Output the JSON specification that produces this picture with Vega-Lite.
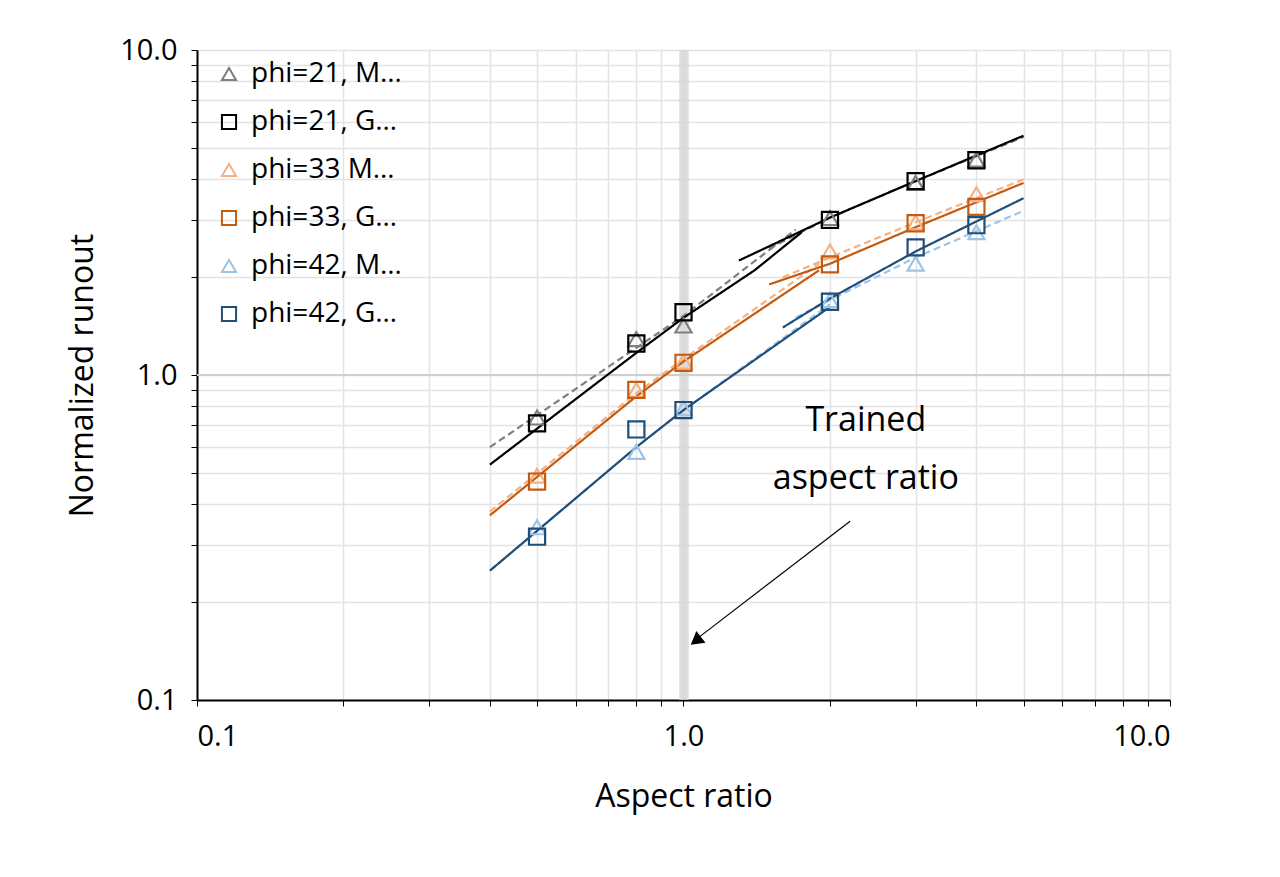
{
  "$schema": "https://vega.github.io/schema/vega-lite/v6.json",
  "autosize": "none",
  "width": 973,
  "height": 650,
  "padding": {"left": 197, "top": 50, "right": 110, "bottom": 177},
  "config": {
    "font": "Open Sans",
    "view": {"stroke": null},
    "axis": {"gridColor": "#e3e3e3", "gridWidth": 1.5, "domainColor": "#000", "domainWidth": 2, "tickColor": "#000", "labelFontSize": 29, "titleFontSize": 32, "titleFontWeight": "normal", "labelColor": "#000", "titleColor": "#000"},
    "legend": {"labelFontSize": 28, "labelColor": "#000", "symbolSize": 200, "symbolStrokeWidth": 2, "rowPadding": 20, "labelOffset": 8}
  },
  "datasets": {
    "pts": [
      {"s": "phi=21, MPM", "x": 0.5, "y": 0.74}, {"s": "phi=21, MPM", "x": 0.8, "y": 1.29}, {"s": "phi=21, MPM", "x": 1.0, "y": 1.42},
      {"s": "phi=21, MPM", "x": 2.0, "y": 3.04}, {"s": "phi=21, MPM", "x": 3.0, "y": 3.9}, {"s": "phi=21, MPM", "x": 4.0, "y": 4.6},
      {"s": "phi=21, GNS", "x": 0.5, "y": 0.71}, {"s": "phi=21, GNS", "x": 0.8, "y": 1.25}, {"s": "phi=21, GNS", "x": 1.0, "y": 1.56},
      {"s": "phi=21, GNS", "x": 2.0, "y": 3.0}, {"s": "phi=21, GNS", "x": 3.0, "y": 3.95}, {"s": "phi=21, GNS", "x": 4.0, "y": 4.58},
      {"s": "phi=33 MPM", "x": 0.5, "y": 0.49}, {"s": "phi=33 MPM", "x": 0.8, "y": 0.9}, {"s": "phi=33 MPM", "x": 1.0, "y": 1.1},
      {"s": "phi=33 MPM", "x": 2.0, "y": 2.4}, {"s": "phi=33 MPM", "x": 3.0, "y": 2.95}, {"s": "phi=33 MPM", "x": 4.0, "y": 3.6},
      {"s": "phi=33, GNS", "x": 0.5, "y": 0.47}, {"s": "phi=33, GNS", "x": 0.8, "y": 0.9}, {"s": "phi=33, GNS", "x": 1.0, "y": 1.09},
      {"s": "phi=33, GNS", "x": 2.0, "y": 2.19}, {"s": "phi=33, GNS", "x": 3.0, "y": 2.93}, {"s": "phi=33, GNS", "x": 4.0, "y": 3.29},
      {"s": "phi=42, MPM", "x": 0.5, "y": 0.34}, {"s": "phi=42, MPM", "x": 0.8, "y": 0.58}, {"s": "phi=42, MPM", "x": 1.0, "y": 0.79},
      {"s": "phi=42, MPM", "x": 2.0, "y": 1.7}, {"s": "phi=42, MPM", "x": 3.0, "y": 2.2}, {"s": "phi=42, MPM", "x": 4.0, "y": 2.75},
      {"s": "phi=42, GNS", "x": 0.5, "y": 0.318}, {"s": "phi=42, GNS", "x": 0.8, "y": 0.68}, {"s": "phi=42, GNS", "x": 1.0, "y": 0.78},
      {"s": "phi=42, GNS", "x": 2.0, "y": 1.68}, {"s": "phi=42, GNS", "x": 3.0, "y": 2.47}, {"s": "phi=42, GNS", "x": 4.0, "y": 2.89}
    ],
    "fits": [
      {"s": "phi=21, MPM", "g": "a", "x": 0.4, "y": 0.6}, {"s": "phi=21, MPM", "g": "a", "x": 1.0, "y": 1.52}, {"s": "phi=21, MPM", "g": "a", "x": 1.7, "y": 2.8},
      {"s": "phi=21, MPM", "g": "b", "x": 1.5, "y": 2.45}, {"s": "phi=21, MPM", "g": "b", "x": 2.0, "y": 3.05}, {"s": "phi=21, MPM", "g": "b", "x": 3.0, "y": 3.95}, {"s": "phi=21, MPM", "g": "b", "x": 5.0, "y": 5.4},
      {"s": "phi=21, GNS", "g": "a", "x": 0.4, "y": 0.53}, {"s": "phi=21, GNS", "g": "a", "x": 0.8, "y": 1.17}, {"s": "phi=21, GNS", "g": "a", "x": 1.0, "y": 1.5}, {"s": "phi=21, GNS", "g": "a", "x": 1.4, "y": 2.1}, {"s": "phi=21, GNS", "g": "a", "x": 1.75, "y": 2.75},
      {"s": "phi=21, GNS", "g": "b", "x": 1.3, "y": 2.25}, {"s": "phi=21, GNS", "g": "b", "x": 2.0, "y": 3.05}, {"s": "phi=21, GNS", "g": "b", "x": 3.0, "y": 3.95}, {"s": "phi=21, GNS", "g": "b", "x": 5.0, "y": 5.45},
      {"s": "phi=33 MPM", "g": "a", "x": 0.4, "y": 0.38}, {"s": "phi=33 MPM", "g": "a", "x": 0.8, "y": 0.88}, {"s": "phi=33 MPM", "g": "a", "x": 1.0, "y": 1.12}, {"s": "phi=33 MPM", "g": "a", "x": 1.9, "y": 2.2},
      {"s": "phi=33 MPM", "g": "b", "x": 1.6, "y": 2.0}, {"s": "phi=33 MPM", "g": "b", "x": 2.0, "y": 2.3}, {"s": "phi=33 MPM", "g": "b", "x": 3.0, "y": 2.95}, {"s": "phi=33 MPM", "g": "b", "x": 5.0, "y": 4.0},
      {"s": "phi=33, GNS", "g": "a", "x": 0.4, "y": 0.37}, {"s": "phi=33, GNS", "g": "a", "x": 0.8, "y": 0.86}, {"s": "phi=33, GNS", "g": "a", "x": 1.0, "y": 1.1}, {"s": "phi=33, GNS", "g": "a", "x": 1.9, "y": 2.1},
      {"s": "phi=33, GNS", "g": "b", "x": 1.5, "y": 1.9}, {"s": "phi=33, GNS", "g": "b", "x": 2.0, "y": 2.2}, {"s": "phi=33, GNS", "g": "b", "x": 3.0, "y": 2.85}, {"s": "phi=33, GNS", "g": "b", "x": 5.0, "y": 3.9},
      {"s": "phi=42, MPM", "g": "a", "x": 0.4, "y": 0.25}, {"s": "phi=42, MPM", "g": "a", "x": 0.8, "y": 0.6}, {"s": "phi=42, MPM", "g": "a", "x": 1.0, "y": 0.78}, {"s": "phi=42, MPM", "g": "a", "x": 2.0, "y": 1.65},
      {"s": "phi=42, MPM", "g": "b", "x": 1.7, "y": 1.5}, {"s": "phi=42, MPM", "g": "b", "x": 2.0, "y": 1.7}, {"s": "phi=42, MPM", "g": "b", "x": 3.0, "y": 2.3}, {"s": "phi=42, MPM", "g": "b", "x": 5.0, "y": 3.2},
      {"s": "phi=42, GNS", "g": "a", "x": 0.4, "y": 0.25}, {"s": "phi=42, GNS", "g": "a", "x": 0.8, "y": 0.6}, {"s": "phi=42, GNS", "g": "a", "x": 1.0, "y": 0.78}, {"s": "phi=42, GNS", "g": "a", "x": 2.0, "y": 1.62},
      {"s": "phi=42, GNS", "g": "b", "x": 1.6, "y": 1.4}, {"s": "phi=42, GNS", "g": "b", "x": 2.0, "y": 1.72}, {"s": "phi=42, GNS", "g": "b", "x": 3.0, "y": 2.4}, {"s": "phi=42, GNS", "g": "b", "x": 5.0, "y": 3.5}
    ]
  },
  "layer": [
    {
      "data": {"values": [{"x1": 0.98, "x2": 1.025, "y1": 0.1, "y2": 10}]},
      "mark": {"type": "rect", "color": "#d4d4d4", "opacity": 0.8},
      "encoding": {
        "x": {"field": "x1", "type": "quantitative", "scale": {"type": "log", "domain": [0.1, 10]},
          "axis": {"title": "Aspect ratio", "titlePadding": 30, "labelPadding": 16, "values": [0.1,0.2,0.3,0.4,0.5,0.6,0.7,0.8,0.9,1,2,3,4,5,6,7,8,9,10], "labelExpr": "datum.value==0.1?'0.1':datum.value==1?'1.0':datum.value==10?'10.0':''", "tickSize": 6}},
        "x2": {"field": "x2"},
        "y": {"field": "y1", "type": "quantitative", "scale": {"type": "log", "domain": [0.1, 10]},
          "axis": {"title": "Normalized runout", "titlePadding": 20, "labelPadding": 14, "values": [0.1,0.2,0.3,0.4,0.5,0.6,0.7,0.8,0.9,1,2,3,4,5,6,7,8,9,10], "labelExpr": "datum.value==0.1?'0.1':datum.value==1?'1.0':datum.value==10?'10.0':''", "tickSize": 6}},
        "y2": {"field": "y2"}
      }
    },
    {
      "data": {"values": [{"v": 1}]},
      "mark": {"type": "rule", "color": "#cfcfcf", "strokeWidth": 2},
      "encoding": {"y": {"field": "v", "type": "quantitative"}}
    },
    {
      "data": {"name": "fits"},
      "mark": {"type": "line", "strokeWidth": 2.2},
      "encoding": {
        "x": {"field": "x", "type": "quantitative"},
        "y": {"field": "y", "type": "quantitative"},
        "detail": {"field": "g"},
        "color": {"field": "s", "type": "nominal"},
        "strokeDash": {"condition": {"test": "indexof(datum.s,'MPM')>=0", "value": [7, 4]}, "value": [1, 0]}
      }
    },
    {
      "data": {"name": "pts"},
      "mark": {"type": "point", "filled": false, "strokeWidth": 2.2, "size": 260, "opacity": 1},
      "encoding": {
        "x": {"field": "x", "type": "quantitative"},
        "y": {"field": "y", "type": "quantitative"},
        "color": {"field": "s", "type": "nominal",
          "scale": {"domain": ["phi=21, MPM", "phi=21, GNS", "phi=33 MPM", "phi=33, GNS", "phi=42, MPM", "phi=42, GNS"],
            "range": ["#7f7f7f", "#000000", "#f4b183", "#c55a11", "#9dc3e6", "#1f4e79"]},
          "legend": {"title": null, "orient": "none", "legendX": 18, "legendY": 10}},
        "shape": {"field": "s", "type": "nominal",
          "scale": {"domain": ["phi=21, MPM", "phi=21, GNS", "phi=33 MPM", "phi=33, GNS", "phi=42, MPM", "phi=42, GNS"],
            "range": ["triangle-up", "square", "triangle-up", "square", "triangle-up", "square"]},
          "legend": {"title": null, "orient": "none", "legendX": 18, "legendY": 10}}
      }
    },
    {
      "data": {"values": [{"x": 2.37, "y": 0.72, "t": "Trained"}, {"x": 2.37, "y": 0.48, "t": "aspect ratio"}]},
      "mark": {"type": "text", "fontSize": 34, "color": "#000"},
      "encoding": {"x": {"field": "x", "type": "quantitative"}, "y": {"field": "y", "type": "quantitative"}, "text": {"field": "t"}}
    },
    {
      "data": {"values": [{"x": 2.2, "y": 0.355}, {"x": 1.07, "y": 0.155}]},
      "mark": {"type": "line", "color": "#000", "strokeWidth": 1.2},
      "encoding": {"x": {"field": "x", "type": "quantitative"}, "y": {"field": "y", "type": "quantitative"}}
    },
    {
      "data": {"values": [{"x": 1.06, "y": 0.152}]},
      "mark": {"type": "point", "shape": "triangle-up", "filled": true, "color": "#000", "size": 220, "angle": 232, "opacity": 1},
      "encoding": {"x": {"field": "x", "type": "quantitative"}, "y": {"field": "y", "type": "quantitative"}}
    }
  ]
}
